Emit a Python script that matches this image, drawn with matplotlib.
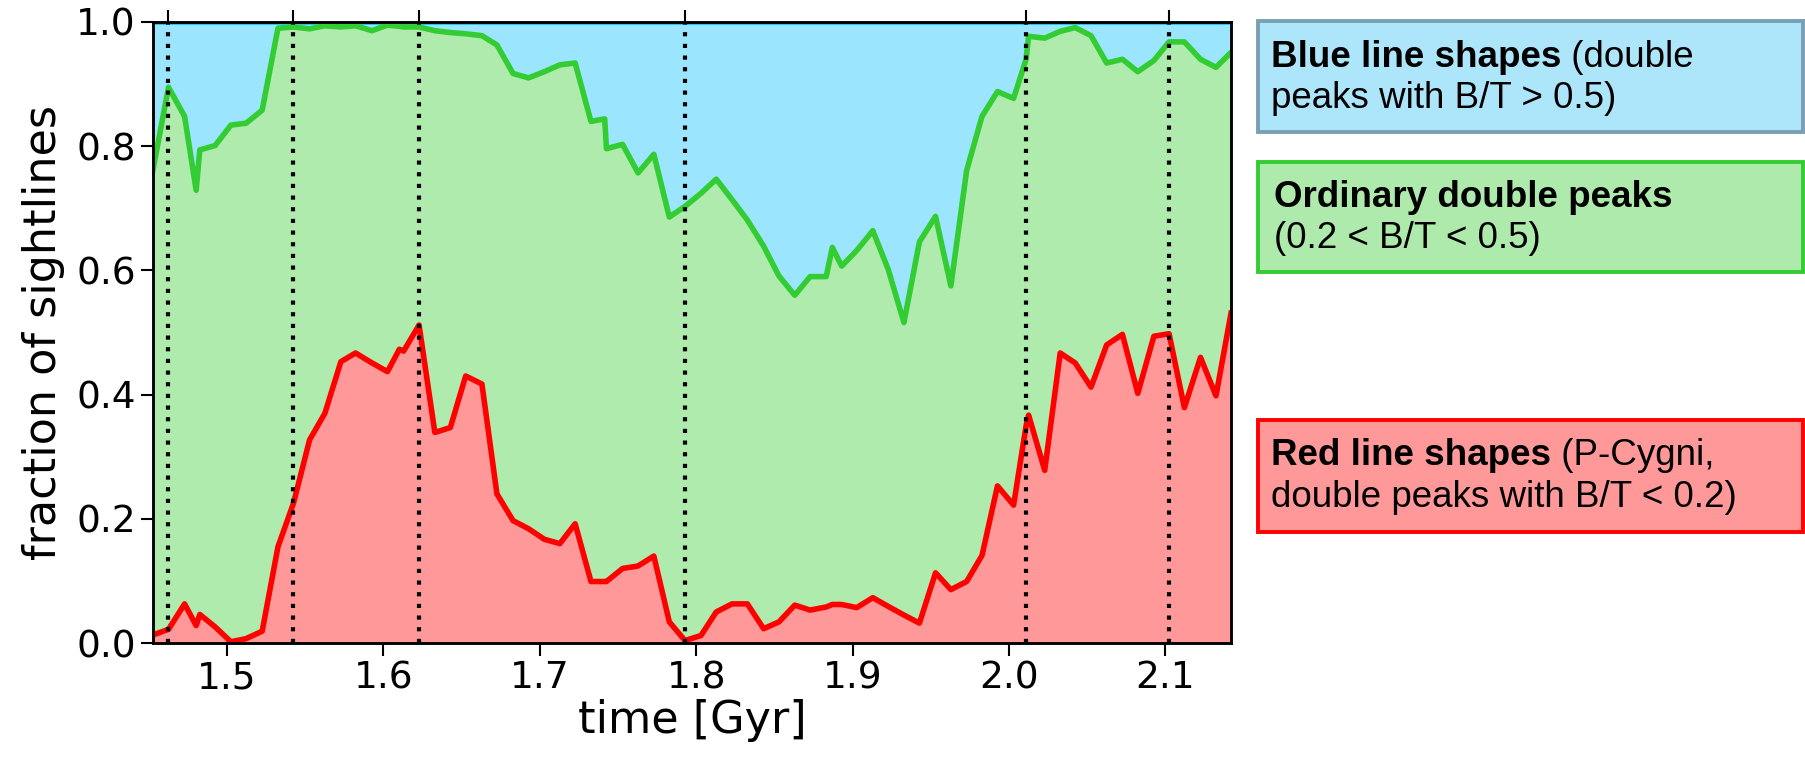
import numpy as np
import matplotlib
matplotlib.use("Agg")
import matplotlib.pyplot as plt
from matplotlib.patches import Rectangle

# snapshot times [Gyr]
time_gyr = [
    1.4527, 1.4626, 1.4729, 1.4803, 1.4826, 1.4924, 1.5025, 1.5122, 1.5225, 1.5326,
    1.5425, 1.5528, 1.5626, 1.5728, 1.5822, 1.5927, 1.6026, 1.6102, 1.6129, 1.6228,
    1.6329, 1.6428, 1.6526, 1.6630, 1.6726, 1.6829, 1.6928, 1.7029, 1.7128, 1.7226,
    1.7327, 1.7415, 1.7426, 1.7529, 1.7628, 1.7729, 1.7828, 1.7928, 1.8030, 1.8128,
    1.8229, 1.8327, 1.8431, 1.8529, 1.8630, 1.8728, 1.8831, 1.8870, 1.8930, 1.9026,
    1.9129, 1.9227, 1.9328, 1.9427, 1.9530, 1.9628, 1.9729, 1.9827, 1.9926, 2.0029,
    2.0109, 2.0125, 2.0228, 2.0327, 2.0423, 2.0524, 2.0624, 2.0725, 2.0823, 2.0926,
    2.1023, 2.1121, 2.1224, 2.1323, 2.1419,
]

# cumulative fraction: red + ordinary double peaks (everything below the blue region)
frac_red_plus_ordinary = [
    0.762, 0.895, 0.848, 0.729, 0.794, 0.801, 0.834, 0.837, 0.858, 0.990,
    0.992, 0.989, 0.994, 0.992, 0.994, 0.986, 0.995, 0.993, 0.992, 0.992,
    0.986, 0.983, 0.981, 0.978, 0.963, 0.917, 0.910, 0.920, 0.931, 0.934,
    0.840, 0.844, 0.796, 0.803, 0.757, 0.787, 0.686, 0.703, 0.724, 0.747,
    0.714, 0.681, 0.639, 0.591, 0.560, 0.590, 0.590, 0.637, 0.607, 0.632,
    0.664, 0.602, 0.516, 0.646, 0.687, 0.575, 0.761, 0.848, 0.888, 0.877,
    0.940, 0.977, 0.974, 0.985, 0.991, 0.978, 0.934, 0.940, 0.920, 0.938,
    0.968, 0.968, 0.940, 0.927, 0.951,
]

# fraction of red line shapes
frac_red = [
    0.013, 0.022, 0.063, 0.028, 0.046, 0.026, 0.002, 0.007, 0.019, 0.155,
    0.225, 0.327, 0.370, 0.453, 0.467, 0.451, 0.437, 0.473, 0.470, 0.512,
    0.339, 0.347, 0.430, 0.417, 0.240, 0.197, 0.184, 0.167, 0.160, 0.192,
    0.099, 0.099, 0.099, 0.120, 0.124, 0.140, 0.034, 0.004, 0.012, 0.050,
    0.063, 0.063, 0.023, 0.034, 0.061, 0.053, 0.058, 0.062, 0.062, 0.057,
    0.073, 0.059, 0.045, 0.032, 0.113, 0.086, 0.099, 0.141, 0.253, 0.222,
    0.350, 0.367, 0.278, 0.467, 0.451, 0.412, 0.480, 0.497, 0.402, 0.494,
    0.498, 0.379, 0.460, 0.398, 0.531,
]

# times of the marked snapshots (dotted lines)
marked_times = [1.4626, 1.5425, 1.6228, 1.7928, 2.0109, 2.1023]

x_ticks = [1.5, 1.6, 1.7, 1.8, 1.9, 2.0, 2.1]
y_ticks = [0.0, 0.2, 0.4, 0.6, 0.8, 1.0]

# category boxes: (top, bottom) in px, face, edge, bold part, rest of line 1, line 2, baselines
categories = [
    (20.5, 132, "#ade6fb", "#7a9fb5", "Blue line shapes", " (double",
     "peaks with B/T > 0.5)", 67, 108, 1271),
    (162, 272, "#aeeaab", "#33cc33", "Ordinary double peaks", "",
     "(0.2 < B/T < 0.5)", 207, 248, 1274),
    (420, 531.5, "#ff9999", "#ff0000", "Red line shapes", " (P-Cygni,",
     "double peaks with B/T < 0.2)", 465, 507, 1271),
]

t = np.array(time_gyr)
top = np.array(frac_red_plus_ordinary)
red = np.array(frac_red)

plt.rcParams["axes.linewidth"] = 1.8

W, H = 1805, 757
fig = plt.figure(figsize=(W / 100, H / 100), dpi=100)
ax = fig.add_axes([153 / W, 1 - 643 / H, (1231 - 153) / W, (643 - 22) / H])

ax.fill_between(t, 0, red, color="#ff9999", lw=0)
ax.fill_between(t, red, top, color="#aeebac", lw=0)
ax.fill_between(t, top, 1, color="#9ce5fe", lw=0)
ax.plot(t, np.ones_like(t), color="#00bfff", lw=4)
ax.plot(t, top, color="#33cc33", lw=4)
ax.plot(t, red, color="#ff0000", lw=4)

for tm in marked_times:
    ax.axvline(tm, color="black", lw=3.0, linestyle=(0, (1, 1.8)))

ax.set_xlim(t[0], t[-1])
ax.set_ylim(0, 1)
ax.set_xticks(x_ticks)
ax.set_xticklabels([f"{v:.1f}" for v in x_ticks])
ax.set_yticks(y_ticks)
ax.set_yticklabels([f"{v:.1f}" for v in y_ticks])
ax.tick_params(labelsize=27, length=9, width=1.5, direction="out")
ax.set_xlabel("time [Gyr]", fontsize=32, labelpad=2)
ax.set_ylabel("fraction of sightlines", fontsize=32, labelpad=8)

# tick marks at the marked snapshots along the top axis
ax_top = ax.twiny()
ax_top.set_xlim(ax.get_xlim())
ax_top.set_xticks(marked_times)
ax_top.set_xticklabels([])
ax_top.tick_params(length=9, width=1.5, direction="out")

font = dict(family="Liberation Sans", fontsize=26.5)
fig.canvas.draw()
renderer = fig.canvas.get_renderer()
for y0, y1, face, edge, bold, rest, line2, base1, base2, x_text in categories:
    fig.patches.append(Rectangle((1258 / W, 1 - y1 / H), (1803 - 1258) / W, (y1 - y0) / H,
                                 transform=fig.transFigure, facecolor=face, edgecolor=edge,
                                 lw=2.8, figure=fig))
    tb = fig.text(x_text / W, 1 - base1 / H, bold, fontweight="bold", va="baseline", **font)
    if rest:
        x_end = tb.get_window_extent(renderer).x1
        fig.text(x_end / W, 1 - base1 / H, rest, va="baseline", **font)
    fig.text(x_text / W, 1 - base2 / H, line2, va="baseline", **font)

fig.savefig("out.png", dpi=100)
